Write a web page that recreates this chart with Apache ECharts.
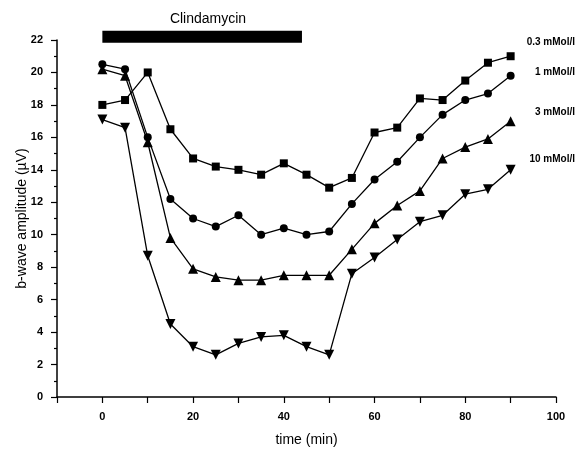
<!DOCTYPE html>
<html>
<head>
<meta charset="utf-8">
<script src="https://cdn.jsdelivr.net/npm/echarts@6/dist/echarts.min.js"></script>
<style>
  html, body { margin: 0; padding: 0; background: #fff; }
  #chart { width: 577px; height: 449px; }
</style>
</head>
<body>
<div id="chart"></div>
<script>
// time points (min)
const times = [0, 5, 10, 15, 20, 25, 30, 35, 40, 45, 50, 55, 60, 65, 70, 75, 80, 85, 90]

// b-wave amplitude per concentration
const conc03 = [18.0, 18.3, 20.0, 16.5, 14.7, 14.2, 14.0, 13.7, 14.4, 13.7, 12.9, 13.5, 16.3, 16.6, 18.4, 18.3, 19.5, 20.6, 21.0]
const conc1 = [20.5, 20.2, 16.0, 12.2, 11.0, 10.5, 11.2, 10.0, 10.4, 10.0, 10.2, 11.9, 13.4, 14.5, 16.0, 17.4, 18.3, 18.7, 19.8]
const conc3 = [20.2, 19.8, 15.7, 9.8, 7.9, 7.4, 7.2, 7.2, 7.5, 7.5, 7.5, 9.1, 10.7, 11.8, 12.7, 14.7, 15.4, 15.9, 17.0]
const conc10 = [17.1, 16.6, 8.7, 4.5, 3.1, 2.6, 3.3, 3.7, 3.8, 3.1, 2.6, 7.6, 8.6, 9.7, 10.8, 11.2, 12.5, 12.8, 14.0]

const seriesNames = ['0.3 mMol/l', '1 mMol/l', '3 mMol/l', '10 mMol/l']

// drug application period (min) and bar level
const drugStart = 0
const drugEnd = 44
const drugLevel = 22.2

const pair = (vals) => times.map((t, i) => [t, vals[i]])

const font = 'Liberation Sans, Arial, sans-serif'

const chart = echarts.init(document.getElementById('chart'))

const lineStyle = { color: '#000', width: 1.3 }

const makeSeries = (name, vals, symbol, size, rotate) => ({
  name: name,
  type: 'line',
  data: pair(vals),
  symbol: symbol,
  symbolSize: size,
  symbolRotate: rotate || 0,
  showAllSymbol: true,
  itemStyle: { color: '#000' },
  lineStyle: lineStyle,
  animation: false
})

const option = {
  animation: false,
  grid: { left: 57, right: 21, top: 40, bottom: 52, outerBoundsMode: 'none' },
  title: {
    text: 'Clindamycin',
    left: 203,
    top: 7,
    textAlign: 'center',
    textStyle: { fontFamily: font, fontSize: 14, fontWeight: 'normal', color: '#000' }
  },
  graphic: [
    { type: 'text', right: 2, top: 37, style: { text: seriesNames[0], font: 'bold 10px ' + font, fill: '#000' } },
    { type: 'text', right: 2, top: 67, style: { text: seriesNames[1], font: 'bold 10px ' + font, fill: '#000' } },
    { type: 'text', right: 2, top: 107, style: { text: seriesNames[2], font: 'bold 10px ' + font, fill: '#000' } },
    { type: 'text', right: 2, top: 154, style: { text: seriesNames[3], font: 'bold 10px ' + font, fill: '#000' } }
  ],
  xAxis: {
    type: 'value',
    min: -10,
    max: 100,
    interval: 10,
    name: 'time (min)',
    nameLocation: 'middle',
    nameGap: 36,
    nameMoveOverlap: false,
    nameTextStyle: { fontFamily: font, fontSize: 14, color: '#000' },
    axisLine: { onZero: false, lineStyle: { color: '#000', width: 1.5 } },
    axisTick: { show: true, length: 6, lineStyle: { color: '#000', width: 1.2 } },
    axisLabel: {
      fontFamily: font, fontSize: 11, fontWeight: 'bold', color: '#000', margin: 14,
      formatter: (v) => (v >= 0 && v % 20 === 0 ? String(v) : '')
    },
    splitLine: { show: false }
  },
  yAxis: {
    type: 'value',
    min: 0,
    max: 22,
    interval: 2,
    name: 'b-wave amplitude (\u00b5V)',
    nameLocation: 'middle',
    nameGap: 28,
    nameMoveOverlap: false,
    nameTextStyle: { fontFamily: font, fontSize: 14, color: '#000' },
    axisLine: { show: true, onZero: false, lineStyle: { color: '#000', width: 1.5 } },
    axisTick: { show: true, length: 6, lineStyle: { color: '#000', width: 1.2 } },
    minorTick: { show: true, splitNumber: 2, length: 3, lineStyle: { color: '#000', width: 1.2 } },
    axisLabel: { fontFamily: font, fontSize: 11, fontWeight: 'bold', color: '#000', margin: 14 },
    splitLine: { show: false }
  },
  series: [
    {
      name: 'Clindamycin',
      type: 'line',
      data: [[drugStart, drugLevel], [drugEnd, drugLevel]],
      symbol: 'none',
      clip: false,
      lineStyle: { color: '#000', width: 12, cap: 'butt' },
      z: 1
    },
    makeSeries(seriesNames[0], conc03, 'rect', 8),
    makeSeries(seriesNames[1], conc1, 'circle', 8),
    makeSeries(seriesNames[2], conc3, 'triangle', 10),
    makeSeries(seriesNames[3], conc10, 'triangle', 10, 180)
  ]
}

chart.setOption(option)
</script>
</body>
</html>
